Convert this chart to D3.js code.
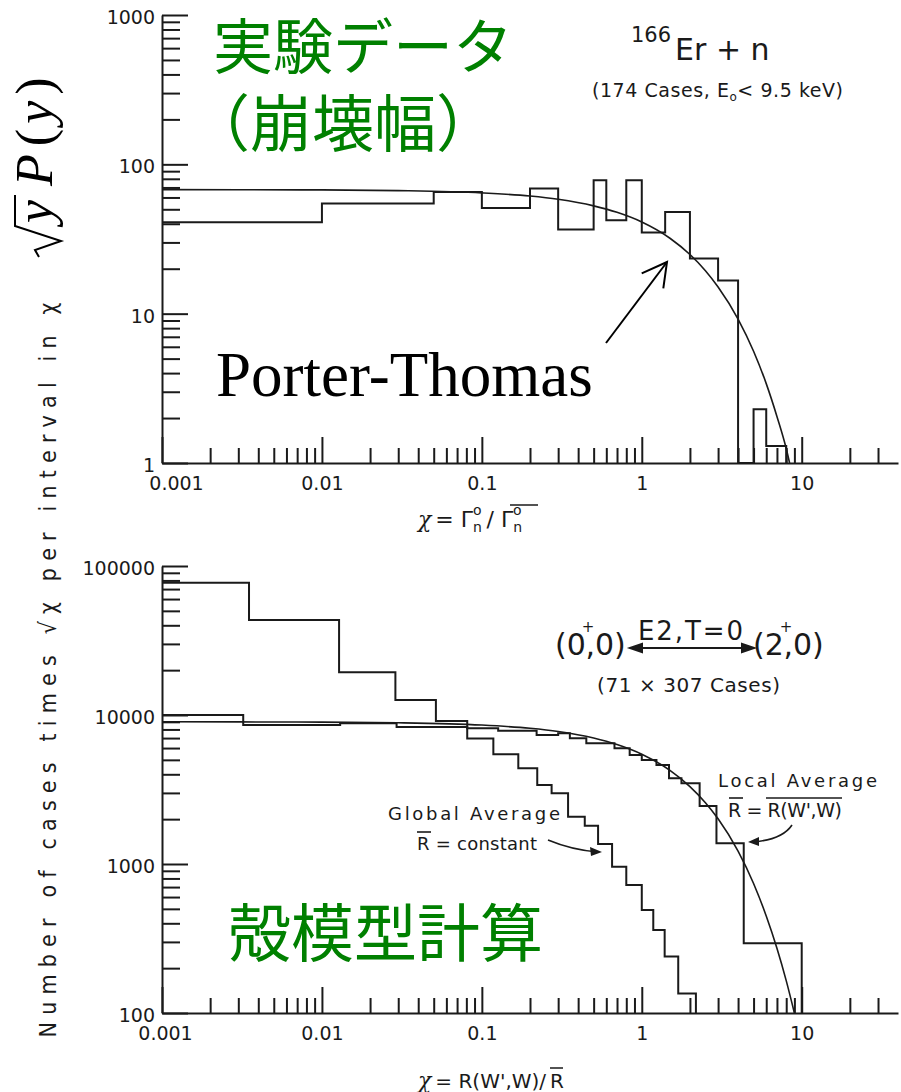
<!doctype html>
<html>
<head>
<meta charset="utf-8">
<title>Porter-Thomas</title>
<script src="https://d3js.org/d3.v7.min.js"></script>
<style>
  body { margin: 0; background: #fff; }
  text { fill: #1a1a1a; }
</style>
</head>
<body>
<script>

const W = 901;
const H = 1092;

// ---- top panel: 166Er + n reduced neutron widths ----
const erEdges  = [0.001, 0.01, 0.05, 0.1, 0.2, 0.3, 0.5, 0.6, 0.8, 1.0, 1.4, 2, 3, 4, 5, 6, 7, 8];
const erCounts = [41, 54.6, 65.3, 51, 68.8, 36.6, 78.2, 42.2, 78.2, 35, 48, 23.4, 16.7, 0, 2.29, 1.3, 1.3];

const ptTopX = [0.001, 0.003, 0.01, 0.03, 0.1, 0.2, 0.3, 0.5, 0.7, 1, 1.5, 2, 2.5, 3, 4, 5, 6, 7, 8, 8.4];
const ptTopY = [67.7, 67.6, 67.4, 66.7, 64.4, 61.3, 58.3, 52.7, 47.7, 41.1, 32.0, 24.9, 19.4, 15.1, 9.2, 5.6, 3.4, 2.05, 1.25, 1.0];

// ---- bottom panel: shell model E2 strengths ----
const globalEdges  = [0.001, 0.0035, 0.0128, 0.0288, 0.0516, 0.081, 0.118, 0.169, 0.222, 0.273, 0.346, 0.44, 0.533, 0.652, 0.80, 1.0, 1.18, 1.39, 1.69, 2.18];
const globalCounts = [77300, 43400, 19360, 12600, 9100, 6950, 5450, 4390, 3390, 2980, 2075, 1806, 1361, 959, 723, 491, 360, 239, 135];

const localEdges  = [0.001, 0.00322, 0.0130, 0.0293, 0.081, 0.1265, 0.22, 0.30, 0.355, 0.45, 0.675, 0.84, 1.0, 1.235, 1.48, 1.77, 2.30, 2.93, 4.34, 10];
const localCounts = [10000, 8570, 8790, 8300, 8140, 7850, 7350, 7540, 6980, 6460, 5980, 5390, 4990, 4620, 3760, 3480, 2450, 1377, 294];

const ptBotX = [0.001, 0.003, 0.01, 0.03, 0.1, 0.2, 0.3, 0.5, 0.7, 1, 1.5, 2, 2.5, 3, 4, 5, 6, 7, 8, 9];
const ptBotY = [9000, 8990, 8955, 8870, 8560, 8140, 7750, 7010, 6340, 5460, 4250, 3310, 2580, 2010, 1220, 740, 448, 272, 165, 100];

// ---- ticks ----
const minorDigits = [2, 3, 4, 5, 6, 7, 8, 9];
const xMajorTicks = [0.001, 0.01, 0.1, 1, 10];
const xTickLabels = ["0.001", "0.01", "0.1", "1", "10"];
const xMinorTicks = [0.001, 0.01, 0.1, 1].flatMap(d => minorDigits.map(m => m * d)).concat([20, 30]);

const yTopMajor = [1, 10, 100, 1000];
const yTopLabels = ["1", "10", "100", "1000"];
const yTopMinor = [1, 10, 100].flatMap(d => minorDigits.map(m => m * d));

const yBotMajor = [100, 1000, 10000, 100000];
const yBotLabels = ["100", "1000", "10000", "100000"];
const yBotMinor = [100, 1000, 10000].flatMap(d => minorDigits.map(m => m * d));

const ink = "#1a1a1a";
const tickFont = "DejaVu Sans";
const green = "#008000";

const svg = d3.select("body").append("svg")
  .attr("width", W)
  .attr("height", H);

const xTop = d3.scaleLog().domain([0.001, 40]).range([162, 898]);
const yTop = d3.scaleLog().domain([1, 1000]).range([463, 15]);
const xBot = d3.scaleLog().domain([0.001, 40]).range([162, 898]);
const yBot = d3.scaleLog().domain([100, 100000]).range([1013, 566]);

function drawAxes(x, y, yMajor, yLabels, yMinor, firstDx) {
  const y0 = y.range()[0];
  const x0 = x.range()[0];

  // x axis, majors with labels
  const gx = svg.append("g").attr("transform", `translate(0,${y0})`)
    .call(d3.axisBottom(x).tickValues(xMajorTicks).tickSizeInner(-26).tickSizeOuter(0)
      .tickPadding(14).tickFormat((d, i) => xTickLabels[i]));
  gx.selectAll("text").attr("font-family", tickFont).attr("font-size", 19).attr("fill", ink)
    .attr("dx", (d, i) => i === 0 ? firstDx : 0);

  // x minors
  svg.append("g").attr("transform", `translate(0,${y0})`)
    .call(d3.axisBottom(x).tickValues(xMinorTicks).tickSizeInner(-15).tickSizeOuter(0).tickFormat(""))
    .select(".domain").remove();

  // y axis
  const gy = svg.append("g").attr("transform", `translate(${x0},0)`)
    .call(d3.axisLeft(y).tickValues(yMajor).tickSizeInner(-26).tickSizeOuter(0)
      .tickPadding(7).tickFormat((d, i) => yLabels[i]));
  gy.selectAll("text").attr("font-family", tickFont).attr("font-size", 19).attr("fill", ink)
    .attr("dy", "0.45em");

  svg.append("g").attr("transform", `translate(${x0},0)`)
    .call(d3.axisLeft(y).tickValues(yMinor).tickSizeInner(-18).tickSizeOuter(0).tickFormat(""))
    .select(".domain").remove();

  svg.selectAll(".domain, .tick line").attr("stroke", ink).attr("stroke-width", 2);
}

function stepPath(x, y, edges, counts) {
  const floor = y.domain()[0];
  const pts = counts.map((c, i) => [edges[i], Math.max(c, floor)]);
  pts.push([edges[edges.length - 1], floor]);
  return d3.line().x(d => x(d[0])).y(d => y(d[1])).curve(d3.curveStepAfter)(pts);
}

function curvePath(x, y, xs, ys) {
  return d3.line().x(d => x(d)).y((d, i) => y(ys[i])).curve(d3.curveMonotoneX)(xs);
}

drawAxes(xTop, yTop, yTopMajor, yTopLabels, yTopMinor, 14);
drawAxes(xBot, yBot, yBotMajor, yBotLabels, yBotMinor, 3);

// histograms and Porter-Thomas curves
svg.append("path").attr("d", stepPath(xTop, yTop, erEdges, erCounts))
  .attr("fill", "none").attr("stroke", ink).attr("stroke-width", 2);
svg.append("path").attr("d", curvePath(xTop, yTop, ptTopX, ptTopY))
  .attr("fill", "none").attr("stroke", ink).attr("stroke-width", 1.6);

svg.append("path").attr("d", stepPath(xBot, yBot, globalEdges, globalCounts))
  .attr("fill", "none").attr("stroke", ink).attr("stroke-width", 2);
svg.append("path").attr("d", stepPath(xBot, yBot, localEdges, localCounts))
  .attr("fill", "none").attr("stroke", ink).attr("stroke-width", 2);
svg.append("path").attr("d", curvePath(xBot, yBot, ptBotX, ptBotY))
  .attr("fill", "none").attr("stroke", ink).attr("stroke-width", 1.6);

// ---- texts, top panel ----
svg.append("text").attr("x", 213).attr("y", 69)
  .attr("font-family", "Noto Sans CJK JP").attr("font-size", 60).style("fill", green)
  .text("実験データ");
svg.append("text").attr("x", 188).attr("y", 147)
  .attr("font-family", "Noto Sans CJK JP").attr("font-size", 62).style("fill", green)
  .text("（崩壊幅）");

const er = svg.append("text").attr("x", 631).attr("y", 60).attr("font-family", tickFont);
er.append("tspan").attr("font-size", 21).attr("dy", -18).text("166");
er.append("tspan").attr("font-size", 30).attr("dx", 4).attr("dy", 18).text("Er + n");

const cases = svg.append("text").attr("x", 592).attr("y", 97)
  .attr("font-family", tickFont).attr("font-size", 19).attr("textLength", 251);
cases.append("tspan").text("(174 Cases, E");
cases.append("tspan").attr("font-size", 12).attr("dy", 4).text("o");
cases.append("tspan").attr("dy", -4).text("< 9.5  keV)");

svg.append("text").attr("x", 216).attr("y", 396)
  .attr("font-family", "Liberation Serif").attr("font-size", 63).style("fill", "#000")
  .text("Porter-Thomas");

const arrow = svg.append("g").attr("stroke", "#000").attr("stroke-width", 2).attr("fill", "none");
arrow.append("line").attr("x1", 606).attr("y1", 343).attr("x2", 667).attr("y2", 262);
arrow.append("path").attr("d", "M641.7,273.3 L667,262 L663.3,288.3");

// top x label: chi = Gamma_n^o / mean Gamma_n^o
const xl = svg.append("text").attr("x", 418).attr("y", 527)
  .attr("font-family", tickFont).attr("font-size", 22);
xl.append("tspan").attr("font-style", "italic").attr("font-family", "DejaVu Serif").text("χ");
xl.append("tspan").attr("dx", 4).text("= Γ");
xl.append("tspan").attr("font-size", 14).attr("dy", 5).text("n");
xl.append("tspan").attr("font-size", 14).attr("dx", -9).attr("dy", -17).text("o");
xl.append("tspan").attr("dx", 5).attr("dy", 12).text("/ Γ");
xl.append("tspan").attr("font-size", 14).attr("dy", 5).text("n");
xl.append("tspan").attr("font-size", 14).attr("dx", -9).attr("dy", -17).text("o");
svg.append("line").attr("x1", 510).attr("x2", 538).attr("y1", 505).attr("y2", 505)
  .attr("stroke", ink).attr("stroke-width", 1.5);

// ---- texts, bottom panel ----
const lhs = svg.append("text").attr("x", 555).attr("y", 655)
  .attr("font-family", tickFont).attr("font-size", 30);
lhs.append("tspan").text("(0");
lhs.append("tspan").attr("font-size", 15).attr("dx", -4).attr("dy", -23).text("+");
lhs.append("tspan").attr("dx", -9).attr("dy", 23).text(",0)");
svg.append("text").attr("x", 638).attr("y", 640)
  .attr("font-family", tickFont).attr("font-size", 26).attr("textLength", 105).text("E2,T=0");
const rhs = svg.append("text").attr("x", 753).attr("y", 655)
  .attr("font-family", tickFont).attr("font-size", 30);
rhs.append("tspan").text("(2");
rhs.append("tspan").attr("font-size", 15).attr("dx", -4).attr("dy", -23).text("+");
rhs.append("tspan").attr("dx", -9).attr("dy", 23).text(",0)");

const dbl = svg.append("g").attr("stroke", ink).attr("stroke-width", 2);
dbl.append("line").attr("x1", 634).attr("x2", 750).attr("y1", 648).attr("y2", 648);
dbl.append("path").attr("d", "M630,648 L642,644 L642,652 Z M754,648 L742,644 L742,652 Z").attr("fill", ink);

svg.append("text").attr("x", 597).attr("y", 692)
  .attr("font-family", tickFont).attr("font-size", 20).attr("textLength", 183).text("(71 × 307  Cases)");

svg.append("text").attr("x", 718).attr("y", 787)
  .attr("font-family", tickFont).attr("font-size", 18).attr("textLength", 159).text("Local Average");
svg.append("text").attr("x", 728).attr("y", 817)
  .attr("font-family", tickFont).attr("font-size", 19).attr("textLength", 114).text("R = R(W',W)");
svg.append("text").attr("x", 388).attr("y", 820)
  .attr("font-family", tickFont).attr("font-size", 18).attr("textLength", 172).text("Global Average");
svg.append("text").attr("x", 417).attr("y", 850)
  .attr("font-family", tickFont).attr("font-size", 18).attr("textLength", 120).text("R = constant");

const over = svg.append("g").attr("stroke", ink).attr("stroke-width", 1.6);
over.append("line").attr("x1", 729).attr("x2", 743).attr("y1", 798).attr("y2", 798);
over.append("line").attr("x1", 766).attr("x2", 842).attr("y1", 798).attr("y2", 798);
over.append("line").attr("x1", 417).attr("x2", 431).attr("y1", 832).attr("y2", 832);

const curl = svg.append("g").attr("stroke", ink).attr("stroke-width", 1.6).attr("fill", "none");
curl.append("path").attr("d", "M548,840 Q572,850 598,852");
curl.append("path").attr("d", "M792,825 Q782,840 752,842");
svg.append("path").attr("d", "M602,852 L590,847 L591,856 Z M748,842 L759,837 L759,846 Z").attr("fill", ink);

// bottom x label: chi = R(W',W) / mean R
const xb = svg.append("text").attr("x", 418).attr("y", 1088)
  .attr("font-family", tickFont).attr("font-size", 20);
xb.append("tspan").attr("font-style", "italic").attr("font-family", "DejaVu Serif").attr("font-size", 22).text("χ");
xb.append("tspan").attr("dx", 4).text("= R(W',W)/");
svg.append("text").attr("x", 550).attr("y", 1088)
  .attr("font-family", tickFont).attr("font-size", 20).text("R");
svg.append("line").attr("x1", 550).attr("x2", 563).attr("y1", 1068).attr("y2", 1068)
  .attr("stroke", ink).attr("stroke-width", 1.5);

svg.append("text").attr("x", 228).attr("y", 956)
  .attr("font-family", "Noto Sans CJK JP").attr("font-size", 63).style("fill", green)
  .text("殻模型計算");

// ---- shared y label ----
svg.append("text").attr("transform", "translate(56,670) rotate(-90)")
  .attr("text-anchor", "middle")
  .attr("font-family", "DejaVu Sans").style("font-stretch", "condensed").attr("font-size", 23)
  .attr("textLength", 735).attr("lengthAdjust", "spacing")
  .text("Number of cases times √χ per interval in χ");

// sqrt(y) P(y), rotated at the top left
const math = svg.append("g").attr("transform", "translate(52,257) rotate(-90)");
math.append("path").attr("d", "M0,-13 L7,-17 L16,9 L31,-37 L62,-37")
  .attr("fill", "none").attr("stroke", "#000").attr("stroke-width", 2);
const mt = math.append("text").attr("x", 34).attr("y", 0)
  .attr("font-family", "Liberation Serif").attr("font-size", 52).style("fill", "#000");
mt.append("tspan").attr("font-style", "italic").text("y");
mt.append("tspan").attr("font-style", "italic").attr("dx", 14).text("P");
mt.append("tspan").attr("dx", 8).text("(");
mt.append("tspan").attr("font-style", "italic").attr("dx", 5).text("y");
mt.append("tspan").attr("dx", 6).text(")");

</script>
</body>
</html>
